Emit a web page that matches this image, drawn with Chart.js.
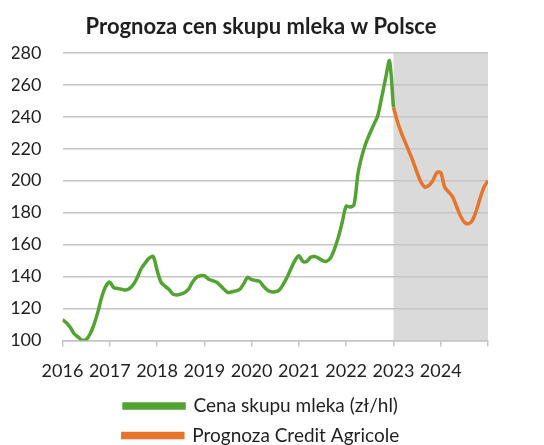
<!DOCTYPE html>
<html>
<head>
<meta charset="utf-8">
<script src="https://cdn.jsdelivr.net/npm/chart.js@4"></script>
<style>
  body { margin: 0; background: #fff; }
  #wrap { width: 544px; height: 445px; }
</style>
</head>
<body>
<div id="wrap"><canvas id="milk"></canvas></div>
<script>
// Monthly milk purchase price, Jan 2016 (month 0) .. Jan 2023 (month 84)
const milkPrice = [
  113, 111, 108, 104, 102, 100, 100.5, 104, 110, 118, 127.5, 134,
  136.5, 133, 132.5, 132, 131.5, 132.5, 135, 139.5, 145, 148.5, 151.5, 152.5,
  144, 136.5, 134, 132, 129, 128.5, 129, 130, 132, 136.5, 139.5, 140.5,
  140.5, 138.5, 137.5, 136.5, 134.5, 132, 130, 130.5, 131, 132, 135.5, 139.5,
  138, 137.5, 137, 134, 131.5, 130.5, 130.5, 131.5, 135, 139.5, 145, 150,
  153, 149.5, 149.5, 152, 152.5, 151.5, 150, 149.5, 151.5, 157, 164.5, 174,
  184, 183.5, 185, 204.5, 215.5, 223.5, 229.5, 235, 240.5, 252, 264, 275,
  246
];
// Credit Agricole forecast, Jan 2023 (month 84) .. end of 2024 (month 108)
const forecast = [
  246, 237, 230, 224, 218, 212, 205, 199, 196, 197, 200, 205,
  205, 196, 193, 190, 184, 178, 174, 173, 175, 181, 189, 196,
  200
];
const forecastStart = 84;
const yearLabels = ['2016', '2017', '2018', '2019', '2020', '2021', '2022', '2023', '2024', ''];
const seriesNames = ['Cena skupu mleka (zł/hl)', 'Prognoza Credit Agricole'];
const seriesColors = ['#52a332', '#e8732a'];

const FONT = 'Lato';
const textColor = '#1f1f1f';
const gridColor = '#c4c4c4';

// grey band behind the forecast period, under the grid lines
const forecastBand = {
  id: 'forecastBand',
  beforeDraw(chart) {
    const { ctx, chartArea, scales } = chart;
    const x0 = scales.x.getPixelForValue(forecastStart);
    const x1 = scales.x.getPixelForValue(scales.x.max);
    ctx.save();
    ctx.fillStyle = '#dadada';
    ctx.fillRect(x0, chartArea.top, x1 - x0, chartArea.bottom - chartArea.top);
    ctx.restore();
  }
};

new Chart(document.getElementById('milk'), {
  type: 'line',
  plugins: [forecastBand],
  data: {
    datasets: [
      {
        label: seriesNames[0],
        data: milkPrice.map((v, i) => ({ x: i, y: v })),
        borderColor: seriesColors[0],
        backgroundColor: seriesColors[0],
        borderWidth: 3.5,
        pointRadius: 0,
        tension: 0.3
      },
      {
        label: seriesNames[1],
        data: forecast.map((v, i) => ({ x: forecastStart + i, y: v })),
        borderColor: seriesColors[1],
        backgroundColor: seriesColors[1],
        borderWidth: 3.5,
        pointRadius: 0,
        tension: 0.3
      }
    ]
  },
  options: {
    responsive: true,
    maintainAspectRatio: false,
    animation: false,
    layout: { padding: { left: 12, right: 34, top: 4, bottom: -10 } },
    plugins: {
      tooltip: { enabled: false },
      title: {
        display: true,
        text: 'Prognoza cen skupu mleka w Polsce',
        color: textColor,
        font: { family: FONT, size: 22, weight: 'bold' },
        padding: { top: 10, bottom: 12.5 }
      },
      legend: {
        position: 'bottom',
        labels: {
          color: textColor,
          font: { family: FONT, size: 19 },
          boxWidth: 60,
          boxHeight: 4,
          padding: 10.5
        }
      }
    },
    scales: {
      x: {
        type: 'linear',
        min: 0,
        max: 108,
        ticks: {
          stepSize: 12,
          autoSkip: false,
          maxRotation: 0,
          color: textColor,
          font: { family: FONT, size: 18 },
          padding: 14,
          callback: (v) => yearLabels[v / 12]
        },
        grid: { drawOnChartArea: false, drawTicks: true, tickLength: 6, color: gridColor, lineWidth: 1.5 },
        border: { display: true, color: gridColor, width: 1.5 },
        afterFit(scale) { scale.height -= 10; }
      },
      y: {
        min: 100,
        max: 280,
        ticks: {
          stepSize: 20,
          color: textColor,
          font: { family: FONT, size: 18 },
          padding: 21
        },
        grid: { color: gridColor, lineWidth: 1.5, drawTicks: false },
        border: { display: false },
        afterFit(scale) { scale.width = 50.5; }
      },
      // empty spacer on the right so the plot ends where the original does
      yRight: {
        position: 'right',
        min: 100,
        max: 280,
        ticks: { display: false },
        grid: { drawOnChartArea: false, drawTicks: false },
        border: { display: false },
        afterFit(scale) { scale.width = 22; }
      }
    }
  }
});
</script>
</body>
</html>
